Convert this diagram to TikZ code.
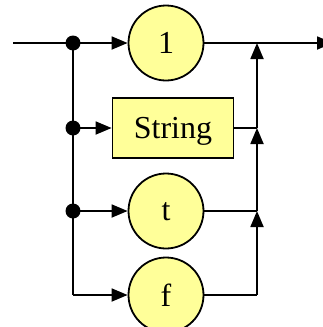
\documentclass[tikz,border=0pt]{standalone}
\usepackage{fontspec}
\setmainfont{Liberation Serif}
\usetikzlibrary{arrows.meta}
\definecolor{termfill}{HTML}{FFFF99}
\begin{document}
\begin{tikzpicture}[x=1pt,y=-1pt,
  line width=1.8pt,
  label font/.style={font=\fontsize{32}{38}\selectfont, text depth=0pt},
  term/.style={circle, draw, fill=termfill, minimum size=75pt, inner sep=0pt, label font},
  nonterm/.style={rectangle, draw, fill=termfill, minimum width=121pt, minimum height=60pt, inner sep=0pt, label font},
  flow/.style={-{Triangle[length=16pt,width=13pt]}},
  junction/.style={circle, fill=black, inner sep=0pt, minimum size=15pt}
]
% page frame; the ends that run past it are cut off
\useasboundingbox (0,0) rectangle (323,327);
\clip (0,0) rectangle (323,327);

% boxes
\node[term]    (one) at (166,43)  {1};
\node[nonterm] (str) at (173,128) {String};
\node[term]    (tt)  at (166,211) {t};
\node[term]    (ff)  at (166,295) {f};

% branch points on the left rail
\coordinate (start) at (13,43);
\coordinate (jone) at (73,43);
\coordinate (jstr) at (73,128);
\coordinate (jt)   at (73,211);
\coordinate (jf)   at (73,295);

% merge points on the right rail
\coordinate (mone) at (257,43);
\coordinate (mstr) at (257,128);
\coordinate (mt)   at (257,211);
\coordinate (mf)   at (257,295);
\coordinate (finish) at (333,43);

% left rail and branches
\draw (start) -- (jone);
\draw (jone) -- (jf);
\draw[flow] (jone) -- (one);
\draw[flow] (jstr) -- (str);
\draw[flow] (jt) -- (tt);
\draw[flow] (jf) -- (ff);

% right rail and merges
\draw (ff) -- (mf);
\draw[flow] (mf) -- (mt);
\draw (tt) -- (mt);
\draw[flow] (mt) -- (mstr);
\draw (str) -- (mstr);
\draw[flow] (mstr) -- (mone);
\draw[flow] (one) -- (finish);

% junction dots
\node[junction] (done) at (jone) {};
\node[junction] (dstr) at (jstr) {};
\node[junction] (dt)   at (jt) {};
\end{tikzpicture}
\end{document}
